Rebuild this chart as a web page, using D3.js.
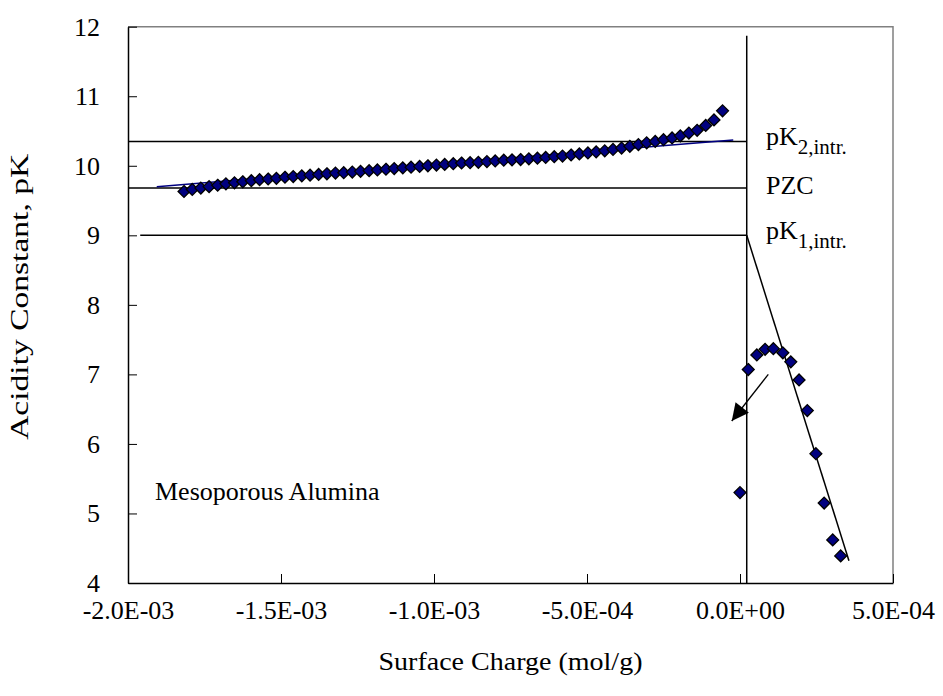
<!DOCTYPE html>
<html lang="en">
<head>
    <meta charset="UTF-8">
    <title>Acidity Constant vs Surface Charge</title>
    <script src="https://d3js.org/d3.v7.min.js"></script>
    <style>
        body { margin: 0; background: #fff; }
    </style>
</head>
<body>
    <div id="chart"></div>
    <script>
        // surface charge values are in units of 1e-4 mol/g
        const leftCharge = [
            -18.17, -17.90, -17.62, -17.35, -17.07, -16.80, -16.52, -16.25, -15.97, -15.70,
            -15.42, -15.15, -14.87, -14.60, -14.32, -14.05, -13.77, -13.50, -13.22, -12.95,
            -12.67, -12.40, -12.12, -11.85, -11.57, -11.30, -11.02, -10.75, -10.47, -10.20,
            -9.92, -9.65, -9.37, -9.10, -8.82, -8.55, -8.27, -8.00, -7.72, -7.45,
            -7.17, -6.90, -6.62, -6.35, -6.07, -5.80, -5.52, -5.25, -4.97, -4.70,
            -4.42, -4.15, -3.87, -3.60, -3.32, -3.05, -2.77, -2.50, -2.22, -1.95,
            -1.67, -1.40, -1.12, -0.85, -0.57
        ];
        const leftPK = [
            9.63, 9.66, 9.68, 9.70, 9.72, 9.74, 9.755, 9.77, 9.785, 9.80,
            9.81, 9.82, 9.835, 9.845, 9.855, 9.865, 9.875, 9.885, 9.895, 9.90,
            9.91, 9.92, 9.93, 9.94, 9.95, 9.96, 9.97, 9.98, 9.99, 10.00,
            10.01, 10.02, 10.03, 10.04, 10.045, 10.05, 10.06, 10.07, 10.08, 10.085,
            10.09, 10.10, 10.11, 10.12, 10.13, 10.14, 10.155, 10.17, 10.185, 10.20,
            10.215, 10.235, 10.255, 10.28, 10.305, 10.33, 10.35, 10.375, 10.40, 10.43,
            10.47, 10.51, 10.58, 10.66, 10.79
        ];
        const rightCharge = [0.00, 0.27, 0.55, 0.82, 1.09, 1.40, 1.66, 1.93, 2.20, 2.48, 2.75, 3.03, 3.29];
        const rightPK = [5.30, 7.07, 7.28, 7.36, 7.37, 7.31, 7.18, 6.92, 6.48, 5.86, 5.15, 4.62, 4.39];

        // thin trend line through the negative branch
        const fitCharge = [-19.06, -0.22];
        const fitPK = [9.70, 10.37];

        // reference lines
        const refPK = [10.35, 9.68, 9.00];
        const refStart = [-20, -20, -19.6];
        const zeroLine = 0.22;
        const slopeCharge = [0.22, 3.56];
        const slopePK = [9.00, 4.32];
        const arrowCharge = [0.925, -0.27];
        const arrowPK = [7.00, 6.33];

        const xTicks = [-20, -15, -10, -5, 0, 5];
        const xTickLabels = ["-2.0E-03", "-1.5E-03", "-1.0E-03", "-5.0E-04", "0.0E+00", "5.0E-04"];
        const yTicks = [4, 5, 6, 7, 8, 9, 10, 11, 12];

        const W = 943, H = 696;
        const margin = {top: 26.7, right: 50, bottom: 113, left: 128};
        const serif = "'Liberation Serif', 'Times New Roman', Times, serif";
        const fontSize = "26px";

        const svg = d3.select("#chart")
            .append("svg")
            .attr("width", W)
            .attr("height", H)
            .style("font-family", serif);

        const x = d3.scaleLinear().domain([-20, 5]).range([margin.left, W - margin.right]);
        const y = d3.scaleLinear().domain([4, 12]).range([H - margin.bottom, margin.top]);

        // plot area border (grey top/right)
        svg.append("path")
            .attr("d", `M${x(-20)},${y(12)}H${x(5)}V${y(4)}`)
            .attr("fill", "none")
            .attr("stroke", "#808080")
            .attr("stroke-width", 1.5);

        // axes
        const xAxis = d3.axisBottom(x)
            .tickValues(xTicks)
            .tickFormat((d, i) => xTickLabels[i])
            .tickSizeInner(-9)
            .tickSizeOuter(0)
            .tickPadding(18);
        svg.append("g")
            .attr("transform", `translate(0,${y(4)})`)
            .call(xAxis)
            .attr("font-family", null)
            .attr("font-size", null)
            .call(g => g.select(".domain").attr("stroke-width", 1.5));

        const yAxis = d3.axisLeft(y)
            .tickValues(yTicks)
            .tickSizeInner(-9)
            .tickSizeOuter(0)
            .tickPadding(28);
        svg.append("g")
            .attr("transform", `translate(${x(-20)},0)`)
            .call(yAxis)
            .attr("font-family", null)
            .attr("font-size", null)
            .call(g => g.select(".domain").attr("stroke-width", 1.5));

        // axis titles
        svg.append("text")
            .attr("x", (x(-20) + x(5)) / 2)
            .attr("y", 670)
            .attr("text-anchor", "middle")
            .attr("textLength", 264)
            .attr("lengthAdjust", "spacingAndGlyphs")
            .text("Surface Charge (mol/g)");

        svg.append("text")
            .attr("transform", `translate(28,${(y(4) + y(12)) / 2 - 8}) rotate(-90)`)
            .attr("text-anchor", "middle")
            .attr("textLength", 286)
            .attr("lengthAdjust", "spacingAndGlyphs")
            .text("Acidity Constant, pK");

        // horizontal reference lines
        refPK.forEach((v, i) => {
            svg.append("line")
                .attr("x1", x(refStart[i])).attr("x2", x(zeroLine))
                .attr("y1", y(v)).attr("y2", y(v))
                .attr("stroke", "#000").attr("stroke-width", 1.5);
        });

        // vertical line near zero charge
        svg.append("line")
            .attr("x1", x(zeroLine)).attr("x2", x(zeroLine))
            .attr("y1", y(11.87)).attr("y2", y(4))
            .attr("stroke", "#000").attr("stroke-width", 1.5);

        // sloped line on positive branch
        svg.append("line")
            .attr("x1", x(slopeCharge[0])).attr("y1", y(slopePK[0]))
            .attr("x2", x(slopeCharge[1])).attr("y2", y(slopePK[1]))
            .attr("stroke", "#000").attr("stroke-width", 1.5);

        // trend line
        svg.append("path")
            .datum(fitCharge.map((c, i) => [c, fitPK[i]]))
            .attr("d", d3.line().x(d => x(d[0])).y(d => y(d[1])))
            .attr("fill", "none")
            .attr("stroke", "#000080")
            .attr("stroke-width", 1.5);

        // data points
        const points = leftCharge.map((c, i) => ({c, pk: leftPK[i]}))
            .concat(rightCharge.map((c, i) => ({c, pk: rightPK[i]})));
        const diamond = d3.symbol().type(d3.symbolDiamond2).size(90);
        svg.append("g")
            .selectAll("path")
            .data(points)
            .join("path")
            .attr("transform", d => `translate(${x(d.c)},${y(d.pk)})`)
            .attr("d", diamond)
            .attr("fill", "#000080")
            .attr("stroke", "#000")
            .attr("stroke-width", 1.3);

        // arrow
        svg.append("defs").append("marker")
            .attr("id", "head")
            .attr("viewBox", "0 0 10 10")
            .attr("refX", 10).attr("refY", 5)
            .attr("markerWidth", 20).attr("markerHeight", 17)
            .attr("markerUnits", "userSpaceOnUse")
            .attr("orient", "auto")
            .append("path")
            .attr("d", "M0,0L10,5L0,10Z")
            .attr("fill", "#000");
        svg.append("line")
            .attr("x1", x(arrowCharge[0])).attr("y1", y(arrowPK[0]))
            .attr("x2", x(arrowCharge[1])).attr("y2", y(arrowPK[1]))
            .attr("stroke", "#000").attr("stroke-width", 1.3)
            .attr("marker-end", "url(#head)");

        // labels for reference lines
        const labelX = 766;
        const pk2 = svg.append("text").attr("x", labelX).attr("y", 145);
        pk2.append("tspan").text("pK");
        pk2.append("tspan").attr("dy", 9).style("font-size", "21px").text("2,intr.");

        svg.append("text").attr("x", labelX).attr("y", 194).text("PZC");

        const pk1 = svg.append("text").attr("x", labelX).attr("y", 239);
        pk1.append("tspan").text("pK");
        pk1.append("tspan").attr("dy", 9).style("font-size", "21px").text("1,intr.");

        // sample label
        svg.append("text")
            .attr("x", 155)
            .attr("y", 500)
            .text("Mesoporous Alumina");

        svg.selectAll("text")
            .attr("fill", "#000")
            .style("font-family", serif);
        svg.selectAll("text").filter(function () { return !this.style.fontSize; })
            .style("font-size", fontSize);
    </script>
</body>
</html>
